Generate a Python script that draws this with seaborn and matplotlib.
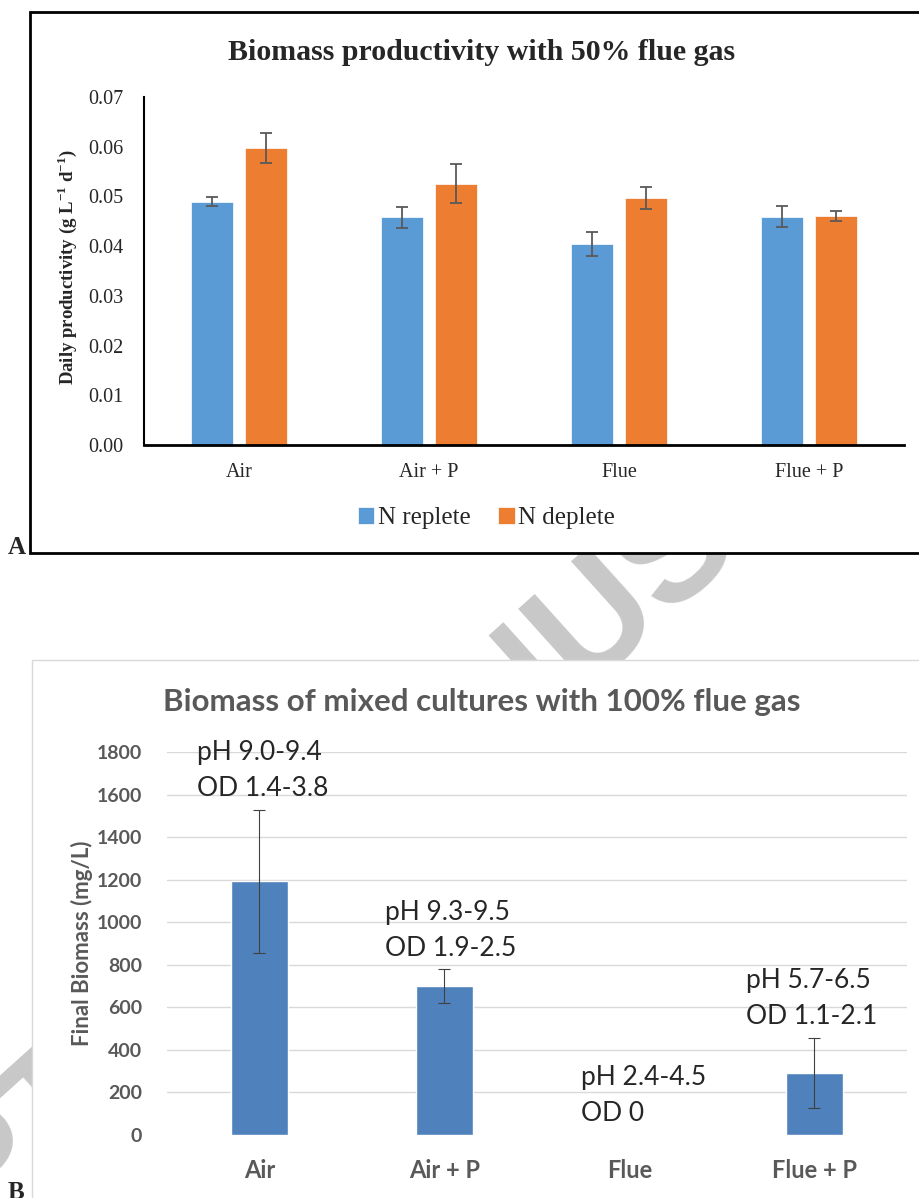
import numpy as np
import pandas as pd
import matplotlib
matplotlib.use("Agg")
import matplotlib.pyplot as plt
import seaborn as sns
from matplotlib.patches import Rectangle

# panel A data (50% flue gas)
treatments = ["Air", "Air + P", "Flue", "Flue + P"]
conditions = ["N replete", "N deplete"]
n_replete = [0.0489, 0.0458, 0.0405, 0.0459]
n_replete_err = [0.0009, 0.0021, 0.0024, 0.0021]
n_deplete = [0.0598, 0.0526, 0.0496, 0.0461]
n_deplete_err = [0.0030, 0.0040, 0.0022, 0.0010]

# panel B data (100% flue gas, mixed cultures)
final_biomass = [1192, 700, 0, 292]
final_biomass_err = [337, 78, 0, 165]
ph_labels = ["pH 9.0-9.4", "pH 9.3-9.5", "pH 2.4-4.5", "pH 5.7-6.5"]
od_labels = ["OD 1.4-3.8", "OD 1.9-2.5", "OD 0", "OD 1.1-2.1"]

sns.set_style("white")
plt.rcParams["mathtext.fontset"] = "custom"
plt.rcParams["mathtext.rm"] = "Liberation Serif"
plt.rcParams["mathtext.bf"] = "Liberation Serif:bold"

SERIF = "Liberation Serif"
SANS = "Lato"
GREY = "#595959"

W, H = 920, 1198
fig = plt.figure(figsize=(W / 100, H / 100), dpi=100)


def fx(px):
    return px / W


def fy(py):
    return 1 - py / H


# watermark behind both panels
fig.text(fx(345), fy(855), "ACCEPTED MANUSCRIPT", fontsize=112, family="Liberation Sans",
         fontweight="bold", color="#C8C8C8", rotation=42, ha="center", va="center", zorder=0)

# panel frames
fig.add_artist(Rectangle((fx(30), fy(553)), fx(900), (553 - 12) / H, transform=fig.transFigure,
                         facecolor="white", edgecolor="black", lw=2, zorder=1))
fig.add_artist(Rectangle((fx(32), fy(1210)), fx(900), (1210 - 660) / H, transform=fig.transFigure,
                         facecolor="white", edgecolor="#D9D9D9", lw=1, zorder=1))

# ---------- panel A ----------
ax1 = fig.add_axes([fx(144), fy(445), fx(904 - 144), (445 - 97) / H], zorder=2)
ax1.patch.set_alpha(0)
df = pd.DataFrame({
    "treatment": treatments * 2,
    "condition": [conditions[0]] * 4 + [conditions[1]] * 4,
    "value": n_replete + n_deplete,
})
sns.barplot(data=df, x="treatment", y="value", hue="condition", hue_order=conditions,
            palette=["#5B9BD5", "#ED7D31"], saturation=1, width=0.57, gap=0.23,
            errorbar=None, edgecolor="white", linewidth=0.5, ax=ax1)

for cont, errs in zip(ax1.containers, [n_replete_err, n_deplete_err]):
    xs = [b.get_x() + b.get_width() / 2 for b in cont]
    ys = [b.get_height() for b in cont]
    ax1.errorbar(xs, ys, yerr=errs, fmt="none", ecolor="#595959", elinewidth=1.3,
                 capsize=4.5, capthick=1.3)

ax1.set_xlim(-0.5, 3.5)
ax1.set_ylim(0, 0.07)
ax1.set_yticks(np.arange(0, 0.071, 0.01))
ax1.set_yticklabels([f"{v:.2f}" for v in np.arange(0, 0.071, 0.01)])
ax1.tick_params(length=0, labelsize=14.5)
ax1.tick_params(axis="y", pad=15)
ax1.tick_params(axis="x", pad=13)
for lab in ax1.get_xticklabels() + ax1.get_yticklabels():
    lab.set_family(SERIF)
ax1.set_xlabel("")
ax1.set_ylabel(r"Daily productivity (g L$^{\mathbf{-1}}$ d$^{\mathbf{-1}}$)",
               family=SERIF, fontweight="bold", fontsize=13.5)
ax1.yaxis.set_label_coords(-0.085, 0.51)
for s in ["top", "right"]:
    ax1.spines[s].set_visible(False)
ax1.spines["left"].set_color("black")
ax1.spines["left"].set_linewidth(1.5)
ax1.spines["bottom"].set_color("black")
ax1.spines["bottom"].set_linewidth(2)

ax1.legend(loc="center", bbox_to_anchor=(0.451, -0.21), ncol=2, frameon=False,
           handlelength=0.65, handleheight=0.65, handletextpad=0.15, columnspacing=1.1,
           prop={"family": SERIF, "size": 18})

fig.text(fx(482), fy(52), "Biomass productivity with 50% flue gas", family=SERIF,
         fontweight="bold", fontsize=21.5, ha="center", va="center", zorder=3)
fig.text(fx(8), fy(548), "A", family=SERIF, fontweight="bold", fontsize=18,
         ha="left", va="center", zorder=3)

# ---------- panel B ----------
ax2 = fig.add_axes([fx(167), fy(1135), fx(907 - 167), (1135 - 752) / H], zorder=2)
ax2.patch.set_alpha(0)
sns.barplot(x=treatments, y=final_biomass, color="#4F81BD", saturation=1, width=0.31,
            errorbar=None, ax=ax2)

bars = ax2.containers[0]
for b, err in zip(bars, final_biomass_err):
    if err > 0:
        ax2.errorbar(b.get_x() + b.get_width() / 2, b.get_height(), yerr=err, fmt="none",
                     ecolor="#404040", elinewidth=0.8, capsize=4.5, capthick=0.8)

text_dx = [-0.34, -0.32, -0.26, -0.37]
for i, (b, err) in enumerate(zip(bars, final_biomass_err)):
    top = b.get_height() + err
    ax2.text(i + text_dx[i], top + 100, od_labels[i], family=SANS, fontsize=19,
             ha="left", va="center", clip_on=False)
    ax2.text(i + text_dx[i], top + 270, ph_labels[i], family=SANS, fontsize=19,
             ha="left", va="center", clip_on=False)

ax2.set_xlim(-0.5, 3.5)
ax2.set_ylim(0, 1800)
ax2.set_yticks(range(0, 1801, 200))
ax2.yaxis.grid(True, color="#D9D9D9", lw=1)
ax2.set_axisbelow(True)
ax2.get_ygridlines()[0].set_visible(False)
ax2.tick_params(length=0, labelsize=14, labelcolor=GREY)
ax2.tick_params(axis="y", pad=18)
ax2.tick_params(axis="x", pad=17, labelsize=17)
for lab in ax2.get_xticklabels() + ax2.get_yticklabels():
    lab.set_family(SANS)
    lab.set_fontweight("bold")
ax2.set_ylabel("Final Biomass (mg/L)", family=SANS, fontweight="bold", fontsize=16,
               color=GREY)
ax2.yaxis.set_label_coords(-0.1, 0.50)
for s in ["top", "right", "left", "bottom"]:
    ax2.spines[s].set_visible(False)

fig.text(fx(482), fy(702), "Biomass of mixed cultures with 100% flue gas", family=SANS,
         fontweight="bold", fontsize=22.5, color=GREY, ha="center", va="center", zorder=3)
fig.text(fx(8), fy(1181), "B", family=SERIF, fontweight="bold", fontsize=18,
         ha="left", va="top", zorder=3)

fig.savefig("out.png", dpi=100)
